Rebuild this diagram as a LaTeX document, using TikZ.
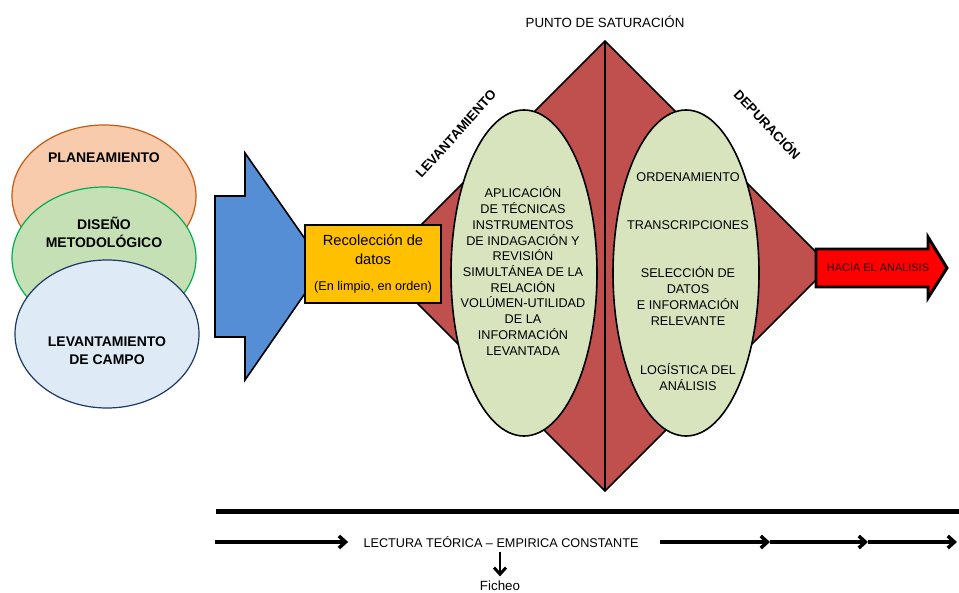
\documentclass[tikz,border=0pt]{standalone}
\usepackage{fontspec}
\setmainfont{Liberation Sans}
\usetikzlibrary{shapes.geometric,arrows.meta}

\definecolor{planfill}{HTML}{F8CBAD}
\definecolor{planline}{HTML}{C55A11}
\definecolor{disfill}{HTML}{C5E0B4}
\definecolor{disline}{HTML}{00B050}
\definecolor{campofill}{HTML}{DEEBF7}
\definecolor{campoline}{HTML}{1F3864}
\definecolor{arrowblue}{HTML}{558ED5}
\definecolor{boxyellow}{HTML}{FFC000}
\definecolor{satred}{HTML}{C0504D}
\definecolor{podgreen}{HTML}{D7E4BD}

\begin{document}
\begin{tikzpicture}[x=0.75pt,y=-0.75pt,
  blob/.style={ellipse,line width=0.9pt,minimum width=138pt,minimum height=106.5pt},
  pod/.style={ellipse,draw=black,fill=podgreen,line width=1.2pt,minimum width=109.5pt,minimum height=244.5pt},
  lbl/.style={font=\bfseries\fontsize{10.5}{13.5}\selectfont,align=center},
  txt/.style={font=\fontsize{9.5}{11.8}\selectfont,align=center},
  flow/.style={line width=2.6pt,-{Straight Barb[length=5pt,width=9pt]}}]

\useasboundingbox (0,0) rectangle (959,592);

\node[blob,fill=planfill,draw=planline] (plan) at (104,196) {};
\node[blob,fill=disfill,draw=disline] (dis) at (104,258) {};
\node[blob,fill=campofill,draw=campoline,minimum height=111pt] (campo) at (107,334) {};
\node[lbl] (plantxt) at (104,158) {PLANEAMIENTO};
\node[lbl] (distxt) at (104,232) {DISEÑO\\METODOLÓGICO};
\node[lbl] (campotxt) at (107,351) {LEVANTAMIENTO\\DE CAMPO};

\draw[fill=arrowblue,line width=1.2pt] (215,196) -- (245,196) -- (245,153) -- (324,266) -- (245,380) -- (245,337) -- (215,337) -- cycle;

\draw[fill=satred,line width=1.2pt] (605,41) coordinate (top) -- (830,266) -- (605,491) coordinate (bot) -- (380,266) -- cycle;
\draw[line width=2.2pt] (top) -- (bot);
\node[font=\fontsize{10}{12}\selectfont] (punto) at (605,22) {PUNTO DE SATURACIÓN};

\node[pod] (lev) at (524,273) {};
\node[pod] (dep) at (686,273) {};

\node[txt] (levtxt) at (523,271) {APLICACIÓN\\DE TÉCNICAS\\INSTRUMENTOS\\DE INDAGACIÓN Y\\REVISIÓN\\SIMULTÁNEA DE LA\\RELACIÓN\\VOLÚMEN-UTILIDAD\\DE LA\\INFORMACIÓN\\LEVANTADA};
\node[txt] (orden) at (688,177) {ORDENAMIENTO};
\node[txt] (trans) at (688,225) {TRANSCRIPCIONES};
\node[txt] (selec) at (688,296) {SELECCIÓN DE\\DATOS\\E INFORMACIÓN\\RELEVANTE};
\node[txt] (logis) at (688,377) {LOGÍSTICA DEL\\ANÁLISIS};

\node[lbl,font=\bfseries\fontsize{10}{12}\selectfont,rotate=48] (levlbl) at (456,134) {LEVANTAMIENTO};
\node[lbl,font=\bfseries\fontsize{10}{12}\selectfont,rotate=-46.5] (deplbl) at (768,124) {DEPURACIÓN};

\node[draw,fill=boxyellow,line width=1.2pt,minimum width=102pt,minimum height=58.5pt,align=center,
  font=\fontsize{11}{14.3}\selectfont] (recol) at (373,264)
  {Recolección de\\datos\\[5pt]{\fontsize{9.5}{11}\selectfont(En limpio, en orden)}};

\draw[fill=red,line width=2.2pt] (816,249) -- (928,249) -- (928,237) -- (947,268) -- (928,298) -- (928,287) -- (816,287) -- cycle;
\node[font=\fontsize{8.2}{10}\selectfont,text=black!85!red,inner sep=1pt] (hacia) at (878,268) {HACIA EL ANALISIS};

\draw[line width=3.75pt] (216,511) -- (959,511);
\node[font=\fontsize{9.5}{11}\selectfont] (lect) at (501,542) {LECTURA TEÓRICA – EMPIRICA CONSTANTE};
\node[font=\fontsize{10}{12}\selectfont] (fich) at (500,586) {Ficheo};
\coordinate (l0) at (215,542);
\coordinate (r0) at (660,542);
\coordinate (r1) at (770,542);
\coordinate (r2) at (868,542);
\coordinate (r3) at (957,542);
\draw[flow] (l0) -- ([xshift=-8pt]lect.west);
\draw[flow] (r0) -- (r1);
\draw[flow] (r1) -- (r2);
\draw[flow] (r2) -- (r3);
\draw[flow,line width=2.2pt] (lect.south -| fich) -- (fich.north);

\end{tikzpicture}
\end{document}
